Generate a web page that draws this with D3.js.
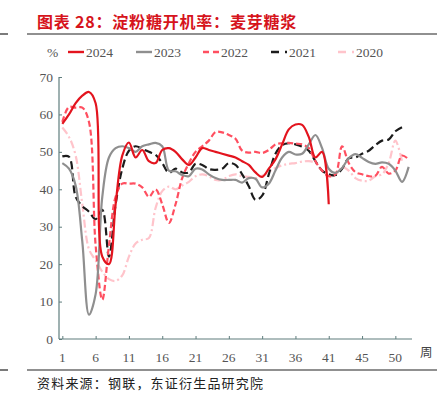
<!DOCTYPE html>
<html>
<head>
<meta charset="utf-8">
<script src="https://cdn.jsdelivr.net/npm/d3@7"></script>
<style>
  body { margin: 0; background: #fff; }
  svg { display: block; }
</style>
</head>
<body>
<div id="chart"></div>
<script>
// tick labels on the week axis (index into the 53 weekly slots)
const tickIndex = [0, 5, 10, 15, 20, 25, 30, 35, 40, 45, 50];
const tickLabels = ["1", "6", "11", "16", "21", "26", "31", "36", "41", "45", "50"];
const yTicks = [0, 10, 20, 30, 40, 50, 60, 70];

// operating rate, %, one value per week slot
const s2024 = [57.5, 60, 63, 65, 66, 63, 22, 20, 36, 49, 52.5, 48.5, 50.5, 47.5, 47, 50.5, 51, 50, 48, 46.5,
  48.5, 51, 50.5, 50, 49.5, 49, 48.5, 47.5, 46.5, 44.5, 43.3, 45.5, 48, 52, 56, 57.3, 57.2, 54, 48.5, 50, 36];
const s2023 = [47, 45.5, 41, 26, 6.5, 12, 38, 48.5, 51, 51.5, 51, 50, 51.5, 52, 52.4, 51.5, 45, 44.8, 43.8, 43.5,
  45.5, 45.3, 44, 43, 42.5, 42.5, 42.5, 41.8, 43, 42.8, 40.5, 41.5, 45, 48.5, 50, 49.3, 49.5, 52, 54.5, 51,
  45.5, 44.4, 45.7, 48.3, 49.4, 48.4, 47.3, 46.8, 47.2, 46.8, 45, 42, 46];
const s2022 = [58, 62, 61.8, 61.8, 58, 25, 10.5, 25, 38, 41.5, 41.5, 41.5, 40.5, 38, 40, 36, 31, 36, 43, 47,
  50, 51.5, 53, 55.3, 55.2, 54.5, 53.5, 50.3, 49.8, 50, 49.7, 50.5, 52, 52.3, 52.4, 52.2, 52, 51, 47.5, 45,
  43.5, 44, 51.5, 47, 44.6, 44, 43.5, 43.6, 46, 44.2, 45, 49, 48];
const s2021 = [48.8, 48.7, 38, 35.5, 34, 32, 34.5, 22, 36, 45.5, 50.3, 51.5, 50.8, 50, 49.2, 47, 44.4, 45.5, 44.5, 44.5,
  46.8, 46.5, 45.4, 45.2, 45.5, 47, 46.5, 44, 40.8, 37.2, 38.3, 44, 49.5, 51.8, 52.3, 52, 51.4, 50.3, 47.5, 45,
  44, 43.8, 45.5, 48.3, 48.5, 49.5, 50.3, 51.8, 53, 53.3, 55.5, 56.6];
const s2020 = [56.5, 54, 49, 36, 24, 21, 18, 16, 15.5, 17, 22, 25.5, 26.5, 27, 35, 39.5, 40.7, 40, 41, 42,
  43.5, 44, 43.5, 42.5, 42.5, 43.5, 44, 43.5, 43.3, 43, 43.6, 44.7, 45.7, 46.4, 46.8, 47, 47.4, 47.5, 47, 45,
  43.5, 43.8, 46, 45, 43, 42.3, 42.3, 43.5, 44, 47, 53, 47.5];

const seriesNames = ["2024", "2023", "2022", "2021", "2020"];
const seriesValues = [s2024, s2023, s2022, s2021, s2020];
const seriesColors = ["#e3141e", "#8f8f8f", "#ff4f60", "#1c1c1c", "#ffc4cb"];
const seriesDash = [null, null, "6,3", "8,4", "8,3,2,3"];
const legendDash = [null, null, "6,4", "8,6,2,3", "8,6,2,3"];

const W = 437, H = 396;
const svg = d3.select("#chart").append("svg").attr("width", W).attr("height", H);

const serif = "'Liberation Serif', 'DejaVu Serif', serif";
const cjk = "'Noto Sans CJK SC', sans-serif";

// title and rules
svg.append("text")
  .attr("x", 37).attr("y", 28)
  .attr("font-family", cjk).attr("font-weight", 700)
  .attr("font-size", 16).attr("letter-spacing", 0.8)
  .attr("fill", "#d6141c")
  .text("图表 28：淀粉糖开机率：麦芽糖浆");

[[0, 8], [27, W]].forEach(function(r) {
  svg.append("line").attr("x1", r[0]).attr("x2", r[1]).attr("y1", 34).attr("y2", 34)
    .attr("stroke", "#222").attr("stroke-width", 1.2);
  svg.append("line").attr("x1", r[0]).attr("x2", r[1]).attr("y1", 370).attr("y2", 370)
    .attr("stroke", "#222").attr("stroke-width", 1.2);
});

svg.append("text")
  .attr("x", 37).attr("y", 388)
  .attr("font-family", cjk).attr("font-size", 13).attr("letter-spacing", 1.2)
  .attr("fill", "#222")
  .text("资料来源：钢联，东证衍生品研究院");

// scales
const x = d3.scalePoint().domain(d3.range(53)).range([59, 412]).padding(0.5);
const y = d3.scaleLinear().domain([0, 70]).range([339, 77]);

const axisColor = "#5f7d7d";

// y axis
const yAxis = svg.append("g").attr("transform", "translate(59,0)")
  .call(d3.axisRight(y).tickValues(yTicks).tickSize(3).tickFormat(""));
yAxis.select(".domain").attr("stroke", axisColor).attr("stroke-width", 1.2).attr("d", "M0,77V339");
yAxis.selectAll(".tick line").attr("stroke", axisColor);
svg.append("g").selectAll("text").data(yTicks).enter().append("text")
  .attr("x", 53).attr("y", function(d) { return y(d) + 4.5; })
  .attr("text-anchor", "end")
  .attr("font-family", serif).attr("font-size", 13.5).attr("fill", "#555")
  .text(function(d) { return d; });

// x axis
const xAxis = svg.append("g").attr("transform", "translate(0,339)")
  .call(d3.axisTop(x).tickValues(tickIndex).tickSize(3).tickFormat(""));
xAxis.select(".domain").attr("stroke", axisColor).attr("stroke-width", 1.2).attr("d", "M59,0H412");
xAxis.selectAll(".tick line").attr("stroke", axisColor);
svg.append("g").selectAll("text").data(tickIndex).enter().append("text")
  .attr("x", function(d) { return x(d); }).attr("y", 362)
  .attr("text-anchor", "middle")
  .attr("font-family", serif).attr("font-size", 13.5).attr("fill", "#555")
  .text(function(d, i) { return tickLabels[i]; });
svg.append("text").attr("x", 420).attr("y", 357)
  .attr("font-family", cjk).attr("font-size", 12.5).attr("fill", "#444")
  .text("周");

// lines, oldest year drawn first
const line = d3.line()
  .x(function(d, i) { return x(i); })
  .y(function(d) { return y(d); })
  .curve(d3.curveCatmullRom.alpha(0.5));

const order = [4, 3, 2, 1, 0];
order.forEach(function(k) {
  svg.append("path")
    .datum(seriesValues[k])
    .attr("d", line)
    .attr("fill", "none")
    .attr("stroke", seriesColors[k])
    .attr("stroke-width", 2.2)
    .attr("stroke-dasharray", seriesDash[k]);
});

// legend
const legY = 52;
svg.append("text").attr("x", 47).attr("y", legY + 4.5)
  .attr("font-family", serif).attr("font-size", 13.5).attr("fill", "#555").text("%");
const legX = [68, 136, 203, 271, 338];
seriesNames.forEach(function(name, k) {
  svg.append("line")
    .attr("x1", legX[k]).attr("x2", legX[k] + 16).attr("y1", legY).attr("y2", legY)
    .attr("stroke", seriesColors[k]).attr("stroke-width", 2.4)
    .attr("stroke-dasharray", legendDash[k]);
  svg.append("text").attr("x", legX[k] + 18).attr("y", legY + 4.5)
    .attr("font-family", serif).attr("font-size", 13.5).attr("fill", "#555").text(name);
});
</script>
</body>
</html>
